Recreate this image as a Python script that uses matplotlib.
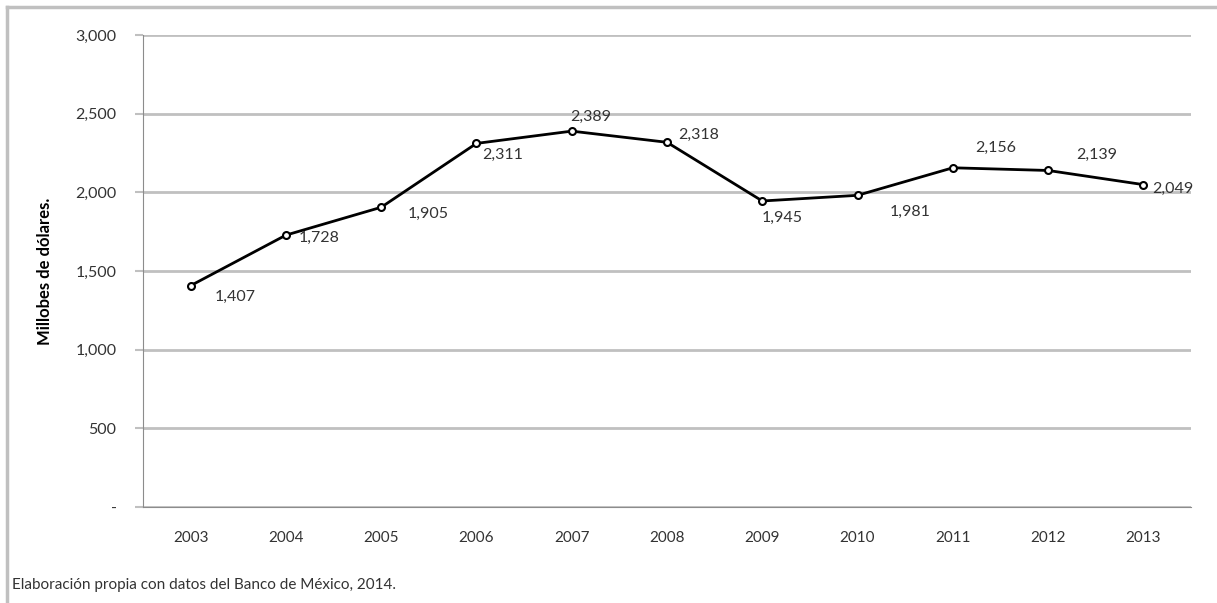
import matplotlib.pyplot as plt
from matplotlib.ticker import FuncFormatter

# === Data ===
years = ["2003", "2004", "2005", "2006", "2007", "2008", "2009", "2010", "2011", "2012", "2013"]
values = [1407, 1728, 1905, 2311, 2389, 2318, 1945, 1981, 2156, 2139, 2049]
# label offsets (points) relative to each marker
label_dx = [32, 24, 34, 19, 14, 23, 14, 38, 31, 35, 21]
label_dy = [-8, -2, -5, -8, 10, 5, -12, -12, 14, 11, -3]

plt.rcParams['font.family'] = ['Lato', 'DejaVu Sans']

fig = plt.figure(figsize=(12.17, 6.03), dpi=100)
ax = fig.add_axes([143 / 1217, 1 - 507 / 603, (1191 - 143) / 1217, (507 - 35) / 603])

x = list(range(len(years)))
ax.plot(x, values, color="black", lw=2, marker="o", ms=5,
        mfc="white", mec="black", mew=1.5, zorder=3)

for i, v in enumerate(values):
    ax.annotate(f"{v:,}", (i, v), xytext=(label_dx[i], label_dy[i]),
                textcoords="offset points", ha="center", va="center",
                fontsize=11.5, color="#333333")

ax.set_xlim(-0.5, len(years) - 0.5)
ax.set_ylim(0, 3000)
ax.set_yticks(range(0, 3001, 500))
ax.yaxis.set_major_formatter(FuncFormatter(lambda v, p: "-" if v == 0 else f"{int(v):,}"))
ax.set_xticks(x)
ax.set_xticklabels(years)

ax.grid(axis="y", color="#c0c0c0", lw=2)
ax.set_axisbelow(True)
for s in ["top", "right"]:
    ax.spines[s].set_visible(False)
ax.spines["left"].set_color("#8c8c8c")
ax.spines["bottom"].set_color("#8c8c8c")
ax.tick_params(axis="y", length=6, color="#c0c0c0", width=1.5, labelsize=11.5,
               labelcolor="#333333", pad=13)
ax.tick_params(axis="x", length=0, labelsize=11, labelcolor="#333333", pad=17)

ax.set_ylabel("Millobes de dólares.", fontsize=12, fontweight="bold", labelpad=16)

# outer frame (only top and left edges visible)
fig.add_artist(plt.Line2D([7 / 1217, 1], [1 - 7 / 603] * 2, color="#c0c0c0", lw=2.5))
fig.add_artist(plt.Line2D([7 / 1217] * 2, [0, 1 - 7 / 603], color="#c0c0c0", lw=2.5))

fig.text(12 / 1217, 1 - 585 / 603, "Elaboración propia con datos del Banco de México, 2014.",
         fontsize=11, color="#333333", va="center")

fig.savefig("out.png", dpi=100)
